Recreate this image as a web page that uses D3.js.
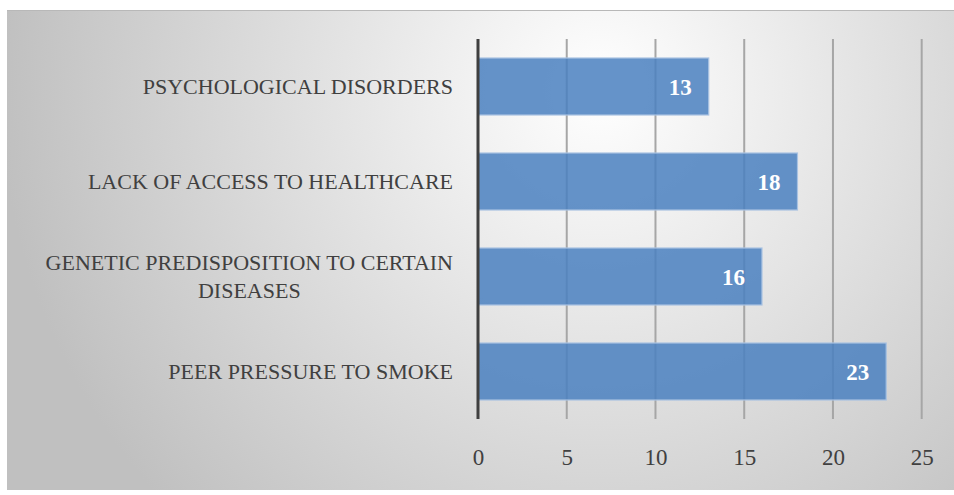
<!DOCTYPE html>
<html lang="en">
<head>
<meta charset="UTF-8">
<title>Bar chart</title>
<script src="https://d3js.org/d3.v7.min.js"></script>
<style>
    body { margin: 0; padding: 0; background: #fff; }
    svg { display: block; }
    text { font-family: "Liberation Serif", "DejaVu Serif", serif; }
</style>
</head>
<body>
<script>
    // data
    var categories = [
        ["PSYCHOLOGICAL DISORDERS"],
        ["LACK OF ACCESS TO HEALTHCARE"],
        ["GENETIC PREDISPOSITION TO CERTAIN", "DISEASES"],
        ["PEER PRESSURE TO SMOKE"]
    ];
    var values = [13, 18, 16, 23];
    var xTicks = [0, 5, 10, 15, 20, 25];

    var width = 954, height = 495;
    var box = {x: 7, y: 10, w: 947, h: 480};
    var m = {left: 478, right: 32, top: 39, bottom: 76};

    var svg = d3.select('body').append('svg')
        .attr('width', width)
        .attr('height', height);

    var defs = svg.append('defs');
    var grad = defs.append('radialGradient')
        .attr('id', 'bg')
        .attr('gradientUnits', 'userSpaceOnUse')
        .attr('cx', 600).attr('cy', 90).attr('r', 600);
    grad.append('stop').attr('offset', '0%').attr('stop-color', '#ffffff');
    grad.append('stop').attr('offset', '100%').attr('stop-color', '#c0c0c0');

    svg.append('rect')
        .attr('x', box.x).attr('y', box.y)
        .attr('width', box.w).attr('height', box.h)
        .attr('fill', 'url(#bg)');
    svg.append('line')
        .attr('x1', box.x).attr('x2', box.x + box.w)
        .attr('y1', box.y + 0.5).attr('y2', box.y + 0.5)
        .attr('stroke', '#b8b8b8');

    var x = d3.scaleLinear()
        .domain([0, 25])
        .range([m.left, width - m.right - 0.3]);

    var y = d3.scaleBand()
        .domain(d3.range(values.length))
        .range([m.top, height - m.bottom])
        .paddingInner(0.4)
        .paddingOuter(0.2);

    // gridlines
    svg.append('g')
        .selectAll('line')
        .data(xTicks.slice(1))
        .enter().append('line')
        .attr('x1', function(d) { return x(d); })
        .attr('x2', function(d) { return x(d); })
        .attr('y1', m.top)
        .attr('y2', height - m.bottom)
        .attr('stroke', '#a6a6a6')
        .attr('stroke-width', 2);

    // bars
    svg.append('g')
        .selectAll('rect')
        .data(values)
        .enter().append('rect')
        .attr('x', x(0))
        .attr('y', function(d, i) { return y(i); })
        .attr('width', function(d) { return x(d) - x(0); })
        .attr('height', y.bandwidth())
        .attr('fill', '#4a80c0')
        .attr('fill-opacity', 0.85)
        .attr('stroke', '#a8c2e2')
        .attr('stroke-width', 1.2);

    // value labels
    svg.append('g')
        .selectAll('text')
        .data(values)
        .enter().append('text')
        .attr('x', function(d) { return x(d) - 17; })
        .attr('y', function(d, i) { return y(i) + y.bandwidth() / 2; })
        .attr('dy', '0.35em')
        .attr('text-anchor', 'end')
        .attr('fill', '#ffffff')
        .attr('font-weight', 'bold')
        .attr('font-size', 23)
        .text(function(d) { return d; });

    // axis line
    svg.append('line')
        .attr('x1', x(0)).attr('x2', x(0))
        .attr('y1', m.top).attr('y2', height - m.bottom)
        .attr('stroke', '#3f3f3f')
        .attr('stroke-width', 3);

    // x tick labels
    var xAxis = svg.append('g')
        .attr('transform', 'translate(0,' + (height - m.bottom) + ')')
        .call(d3.axisBottom(x).tickValues(xTicks).tickSize(0).tickPadding(30));
    xAxis.select('.domain').remove();
    xAxis.selectAll('text')
        .attr('font-family', '"Liberation Serif", serif')
        .attr('font-size', 23)
        .attr('fill', '#404040');

    // category labels (centered lines, block right aligned)
    var lineH = 27.5;
    var catG = svg.append('g');
    categories.forEach(function(lines, i) {
        var cy = y(i) + y.bandwidth() / 2;
        var t = catG.append('text')
            .attr('font-size', 22)
            .attr('fill', '#404040')
            .attr('text-anchor', 'middle');
        var spans = lines.map(function(s, k) {
            return t.append('tspan')
                .attr('y', cy + (k - (lines.length - 1) / 2) * lineH)
                .attr('dy', '0.35em')
                .text(s);
        });
        var w = d3.max(spans, function(s) { return s.node().getComputedTextLength(); });
        spans.forEach(function(s) { s.attr('x', 453 - w / 2); });
    });
</script>
</body>
</html>
